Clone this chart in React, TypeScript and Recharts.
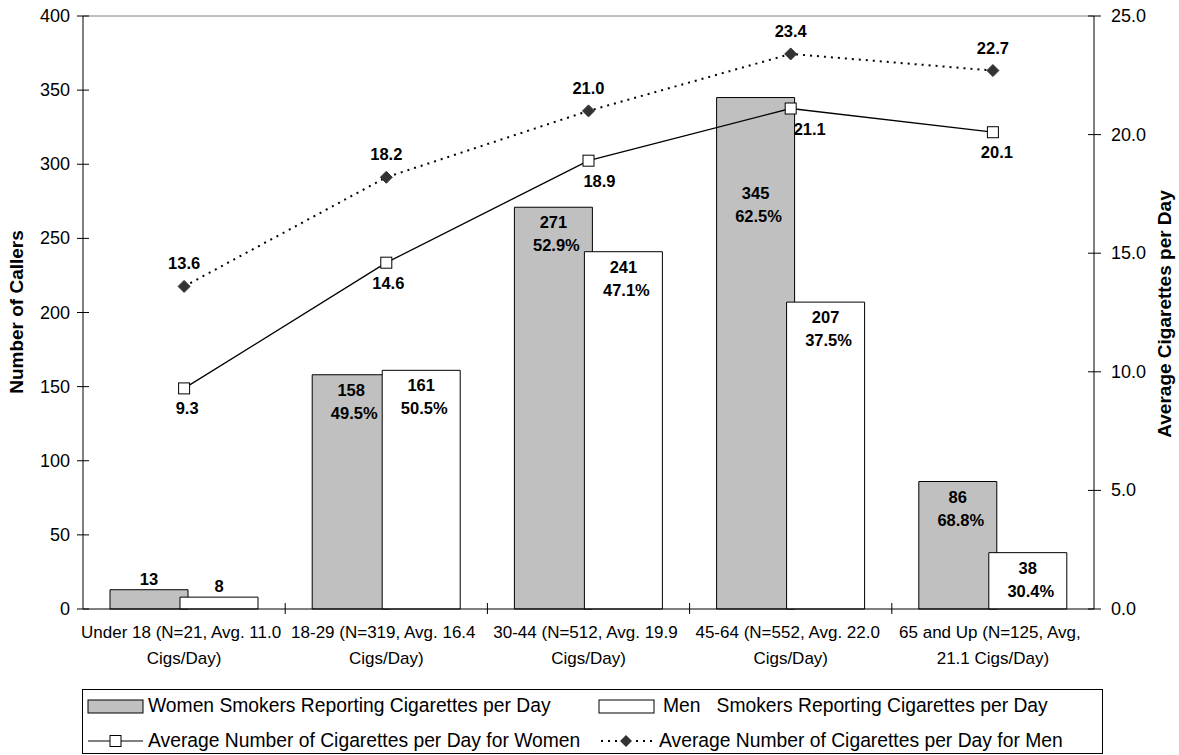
import React from 'react';
import {
  ComposedChart,
  Bar,
  Line,
  XAxis,
  YAxis,
  LabelList,
  ReferenceLine
} from 'recharts';

// age groups + the two-line tick captions
const ageGroups = ['Under 18', '18-29', '30-44', '45-64', '65 and Up'];
const tickLine1 = [
  'Under 18 (N=21, Avg. 11.0',
  '18-29 (N=319, Avg. 16.4',
  '30-44 (N=512, Avg. 19.9',
  '45-64 (N=552, Avg. 22.0',
  '65 and Up (N=125, Avg,'
];
const tickLine2 = ['Cigs/Day)', 'Cigs/Day)', 'Cigs/Day)', 'Cigs/Day)', '21.1 Cigs/Day)'];

const womenCallers = [13, 158, 271, 345, 86];
const menCallers = [8, 161, 241, 207, 38];
const womenShare = ['', '49.5%', '52.9%', '62.5%', '68.8%'];
const menShare = ['', '50.5%', '47.1%', '37.5%', '30.4%'];
const womenAvgCigs = [9.3, 14.6, 18.9, 21.1, 20.1];
const menAvgCigs = [13.6, 18.2, 21.0, 23.4, 22.7];

const leftTicks = [0, 50, 100, 150, 200, 250, 300, 350, 400];
const rightTicks = [0, 5, 10, 15, 20, 25];

const data = ageGroups.map((g, i) => ({
  group: g,
  women: womenCallers[i],
  men: menCallers[i],
  womenAvg: womenAvgCigs[i],
  menAvg: menAvgCigs[i]
}));

const W = 1179;
const H = 755;
const LEFT_W = 83;
const RIGHT_W = 85;
const BAND = (W - LEFT_W - RIGHT_W) / ageGroups.length;
const FONT = '"Liberation Sans", Arial, sans-serif';

// label tweaks copied from the original layout (moved labels)
const barLabelNudge: Record<number, number> = { 3: 80 };
const womenAvgLabelDx = [3, 2, 11, 19, 4];

const LeftTick = ({ x, y, payload }: any) => (
  <g>
    <line x1={x + 7} x2={x + 19} y1={y} y2={y} stroke="#000" />
    <text x={x} y={y + 6} textAnchor="end" fontSize={18} fontFamily={FONT} fill="#000">
      {payload.value}
    </text>
  </g>
);

const RightTick = ({ x, y, payload }: any) => (
  <g>
    <line x1={x - 23} x2={x - 10} y1={y} y2={y} stroke="#000" />
    <text x={x} y={y + 6} textAnchor="start" fontSize={18} fontFamily={FONT} fill="#000">
      {Number(payload.value).toFixed(1)}
    </text>
  </g>
);

const CategoryTick = ({ x, y, index }: any) => (
  <g>
    {index > 0 && (
      <line x1={x - BAND / 2} x2={x - BAND / 2} y1={y - 6} y2={y + 5} stroke="#000" />
    )}
    <text x={x - 3} y={y + 29} textAnchor="middle" fontSize={17} fontFamily={FONT} fill="#000">
      {tickLine1[index]}
    </text>
    <text x={x} y={y + 55} textAnchor="middle" fontSize={17} fontFamily={FONT} fill="#000">
      {tickLine2[index]}
    </text>
  </g>
);

const makeBarLabel = (shares: string[]) => (props: any) => {
  const { x, y, width, value, index } = props;
  const cx = x + width / 2;
  const share = shares[index];
  if (!share) {
    return (
      <text x={cx} y={y - 5} textAnchor="middle" fontSize={16.5} fontWeight="bold" fontFamily={FONT} fill="#000">
        {value}
      </text>
    );
  }
  const top = y + (barLabelNudge[index] && shares === womenShare ? barLabelNudge[index] : 0);
  return (
    <g>
      <text x={cx} y={top + 21} textAnchor="middle" fontSize={16.5} fontWeight="bold" fontFamily={FONT} fill="#000">
        {value}
      </text>
      <text x={cx + 3} y={top + 44} textAnchor="middle" fontSize={16.5} fontWeight="bold" fontFamily={FONT} fill="#000">
        {share}
      </text>
    </g>
  );
};

const WomenAvgLabel = (props: any) => {
  const { x, y, value, index } = props;
  return (
    <text x={x + womenAvgLabelDx[index]} y={y + 26} textAnchor="middle" fontSize={16.5} fontWeight="bold" fontFamily={FONT} fill="#000">
      {Number(value).toFixed(1)}
    </text>
  );
};

const MenAvgLabel = (props: any) => {
  const { x, y, value } = props;
  return (
    <text x={x} y={y - 17} textAnchor="middle" fontSize={16.5} fontWeight="bold" fontFamily={FONT} fill="#000">
      {Number(value).toFixed(1)}
    </text>
  );
};

const SquareDot = (props: any) => {
  const { cx, cy, index } = props;
  return <rect key={`sq-${index}`} x={cx - 5.5} y={cy - 5.5} width={11} height={11} fill="#fff" stroke="#000" strokeWidth={1} />;
};

const DiamondDot = (props: any) => {
  const { cx, cy, index } = props;
  return (
    <path
      key={`dm-${index}`}
      d={`M${cx},${cy - 6} L${cx + 6},${cy} L${cx},${cy + 6} L${cx - 6},${cy} Z`}
      fill="#333"
      stroke="#333"
    />
  );
};

const leftTitle = () => (
  <text
    x={16}
    y={312}
    transform="rotate(-90 16 312)"
    textAnchor="middle"
    dominantBaseline="central"
    fontSize={19}
    fontWeight="bold"
    fontFamily={FONT}
    fill="#000"
  >
    Number of Callers
  </text>
);

const rightTitle = () => (
  <text
    x={1164}
    y={314}
    transform="rotate(-90 1164 314)"
    textAnchor="middle"
    dominantBaseline="central"
    fontSize={19}
    fontWeight="bold"
    fontFamily={FONT}
    fill="#000"
  >
    Average Cigarettes per Day
  </text>
);

const legendText: React.CSSProperties = {
  position: 'absolute',
  fontSize: 19.3,
  fontFamily: FONT,
  whiteSpace: 'pre',
  lineHeight: '20px',
  color: '#000'
};

function LegendBox() {
  return (
    <div
      style={{
        position: 'absolute',
        left: 82,
        top: 689,
        width: 1019,
        height: 63,
        border: '1px solid #000',
        background: '#fff'
      }}
    >
      <svg width={1019} height={63} style={{ position: 'absolute', left: 0, top: 0 }}>
        <rect x={5} y={10} width={55} height={13} fill="#c0c0c0" stroke="#000" />
        <rect x={516} y={10} width={55} height={13} fill="#fff" stroke="#000" />
        <line x1={5} x2={60} y1={51} y2={51} stroke="#000" />
        <rect x={27} y={45.5} width={11} height={11} fill="#fff" stroke="#000" />
        <line x1={518} x2={570} y1={51} y2={51} stroke="#000" strokeWidth={2} strokeDasharray="2 5" />
        <path d="M543,45 L549,51 L543,57 L537,51 Z" fill="#333" />
      </svg>
      <span style={{ ...legendText, left: 65, top: 6 }}>Women Smokers Reporting Cigarettes per Day</span>
      <span style={{ ...legendText, left: 580, top: 6 }}>Men   Smokers Reporting Cigarettes per Day</span>
      <span style={{ ...legendText, left: 65, top: 41 }}>Average Number of Cigarettes per Day for Women</span>
      <span style={{ ...legendText, left: 576, top: 41 }}>Average Number of Cigarettes per Day for Men</span>
    </div>
  );
}

export default function App() {
  return (
    <div style={{ position: 'absolute', left: 0, top: 0, width: W, height: H, background: '#fff' }}>
      <ComposedChart
        width={W}
        height={H}
        data={data}
        margin={{ top: 16, right: 0, bottom: 0, left: 0 }}
        barSize={78}
        barGap={-8}
      >
        <XAxis
          dataKey="group"
          xAxisId={0}
          height={146}
          tickSize={0}
          tickMargin={0}
          tickLine={false}
          axisLine={{ stroke: '#000' }}
          interval={0}
          tick={<CategoryTick />}
        />
        <YAxis
          yAxisId="left"
          domain={[0, 400]}
          ticks={leftTicks}
          width={LEFT_W}
          tickSize={6}
          tickMargin={7}
          tickLine={false}
          axisLine={{ stroke: '#000' }}
          tick={<LeftTick />}
          label={leftTitle}
        />
        <YAxis
          yAxisId="right"
          orientation="right"
          domain={[0, 25]}
          ticks={rightTicks}
          width={RIGHT_W}
          tickSize={6}
          tickMargin={11}
          tickLine={false}
          axisLine={{ stroke: '#000' }}
          tick={<RightTick />}
          label={rightTitle}
        />
        <ReferenceLine yAxisId="left" y={400} stroke="#808080" />
        <Bar
          yAxisId="left"
          dataKey="women"
          name="Women Smokers Reporting Cigarettes per Day"
          fill="#c0c0c0"
          stroke="#000"
          strokeWidth={1}
          isAnimationActive={false}
        >
          <LabelList dataKey="women" content={makeBarLabel(womenShare)} />
        </Bar>
        <Bar
          yAxisId="left"
          dataKey="men"
          name="Men Smokers Reporting Cigarettes per Day"
          fill="#fff"
          stroke="#000"
          strokeWidth={1}
          isAnimationActive={false}
        >
          <LabelList dataKey="men" content={makeBarLabel(menShare)} />
        </Bar>
        <Line
          yAxisId="right"
          dataKey="womenAvg"
          name="Average Number of Cigarettes per Day for Women"
          stroke="#000"
          strokeWidth={1.3}
          dot={SquareDot}
          activeDot={false}
          isAnimationActive={false}
        >
          <LabelList dataKey="womenAvg" content={WomenAvgLabel} />
        </Line>
        <Line
          yAxisId="right"
          dataKey="menAvg"
          name="Average Number of Cigarettes per Day for Men"
          stroke="#000"
          strokeWidth={2}
          strokeDasharray="2 5"
          dot={DiamondDot}
          activeDot={false}
          isAnimationActive={false}
        >
          <LabelList dataKey="menAvg" content={MenAvgLabel} />
        </Line>
      </ComposedChart>
      <LegendBox />
    </div>
  );
}
